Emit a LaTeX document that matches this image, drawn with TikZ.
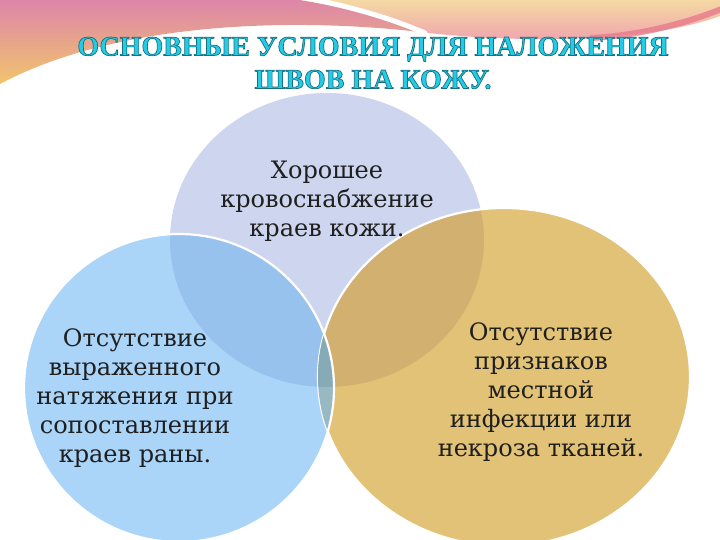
\documentclass[tikz,border=0pt]{standalone}
\usepackage{fontspec}
\setmainfont{DejaVu Serif}
\newfontfamily\titlefont{Liberation Serif}
\definecolor{ringtop}{HTML}{CDD6EE}
\definecolor{ringleft}{HTML}{AAD4F8}
\definecolor{ringright}{HTML}{E2C277}
\definecolor{lapTL}{HTML}{98C2EE}
\definecolor{lapTR}{HTML}{D2B06F}
\definecolor{lapLR}{HTML}{98B8C2}
\definecolor{lapall}{HTML}{86AAB6}
\definecolor{titlefill}{HTML}{22CBE6}
\definecolor{swirlpink}{HTML}{DD86A9}
\definecolor{swirlgold}{HTML}{F2C46C}
\definecolor{swirlpeach}{HTML}{F4D9A4}
\definecolor{swirlrose}{HTML}{F0A0AE}
\definecolor{swirlred}{HTML}{E87A8A}
% outlined letters: fill and stroke (dark teal rim)
\newcommand\rimtext[1]{\special{pdf:literal direct 0.09 0.44 0.50 RG 0.7 w 2 Tr}#1\special{pdf:literal direct 0 Tr}}

\begin{document}
\begin{tikzpicture}[x=1pt, y=-1pt,
    lbl/.style={align=center, text=black!88, font=\fontsize{24}{29}\selectfont},
    rim/.style={draw=white, line width=2.2pt}]
    \fill[white] (0,0) rectangle (720,540);
    \useasboundingbox (0,0) rectangle (720,540);

    % swirls at the top
    \shade[top color=swirlpink, bottom color=swirlgold] (0,0) -- (300,0)
        .. controls (350,8) and (390,18) .. (420,32)
        .. controls (300,18) and (120,20) .. (0,84) -- cycle;
    \shade[top color=swirlpeach, bottom color=swirlrose] (300,0) -- (720,0) -- (720,16)
        .. controls (650,42) and (520,44) .. (420,32)
        .. controls (390,18) and (350,8) .. (300,0) -- cycle;
    \draw[swirlred, line width=6pt, opacity=.8] (590,38) .. controls (640,36) and (690,22) .. (724,8);
    \draw[white, line width=5pt, line cap=round] (300,-3) .. controls (350,6) and (390,18) .. (425,33);

    % the three rings
    \fill[ringtop] (327,240) ellipse [x radius=157pt, y radius=147pt];
    \fill[ringright] (504,377) ellipse [x radius=186pt, y radius=169pt];
    \fill[ringleft] (179,388) ellipse [x radius=155pt, y radius=154pt];

    \begin{scope}
        \clip (327,240) ellipse [x radius=157pt, y radius=147pt];
        \fill[lapTL] (179,388) ellipse [x radius=155pt, y radius=154pt];
        \fill[lapTR] (504,377) ellipse [x radius=186pt, y radius=169pt];
    \end{scope}
    \draw[rim] (504,377) ellipse [x radius=186pt, y radius=169pt];

    \begin{scope}
        \clip (179,388) ellipse [x radius=155pt, y radius=154pt];
        \fill[lapLR] (504,377) ellipse [x radius=186pt, y radius=169pt];
        \clip (327,240) ellipse [x radius=157pt, y radius=147pt];
        \fill[lapall] (504,377) ellipse [x radius=186pt, y radius=169pt];
    \end{scope}
    \draw[rim] (179,388) ellipse [x radius=155pt, y radius=154pt];

    \node[font=\titlefont\bfseries\fontsize{28}{33}\selectfont, text=titlefill, align=center]
        (title) at (373,63) {\rimtext{ОСНОВНЫЕ УСЛОВИЯ ДЛЯ НАЛОЖЕНИЯ}\\
        \rimtext{ШВОВ НА КОЖУ.}};

    \node[lbl] (blood) at (327,201) {Хорошее\\кровоснабжение\\краев кожи.};
    \node[lbl] (tension) at (135,398) {Отсутствие\\выраженного\\натяжения при\\сопоставлении\\краев раны.};
    \node[lbl] (infection) at (541,392) {Отсутствие\\признаков\\местной\\инфекции или\\некроза тканей.};
\end{tikzpicture}
\end{document}
